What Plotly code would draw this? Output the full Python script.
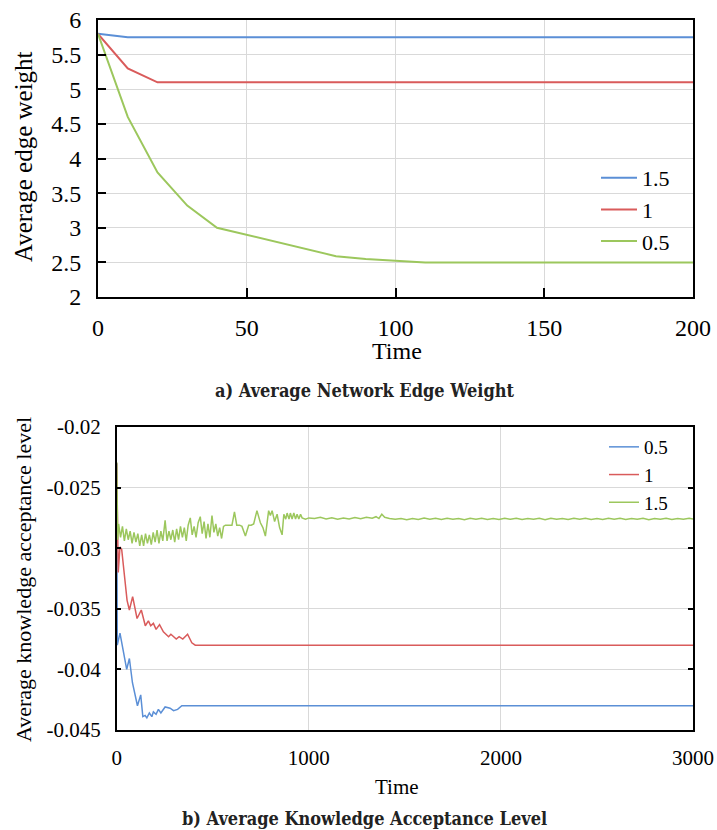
import plotly.graph_objects as go

# ---------- (a) Average network edge weight ----------
time_a = [0, 10, 20, 30, 40, 50, 60, 70, 80, 90, 100, 110, 120, 140, 160, 180, 200]
w_15 = [5.80, 5.75, 5.75, 5.75, 5.75, 5.75, 5.75, 5.75, 5.75, 5.75, 5.75, 5.75, 5.75, 5.75, 5.75, 5.75, 5.75]
w_10 = [5.80, 5.30, 5.10, 5.10, 5.10, 5.10, 5.10, 5.10, 5.10, 5.10, 5.10, 5.10, 5.10, 5.10, 5.10, 5.10, 5.10]
w_05 = [5.80, 4.60, 3.80, 3.32, 3.00, 2.90, 2.80, 2.70, 2.59, 2.55, 2.53, 2.50, 2.50, 2.50, 2.50, 2.50, 2.50]
yticks_a = [2, 2.5, 3, 3.5, 4, 4.5, 5, 5.5, 6]
yticktext_a = ["2", "2.5", "3", "3.5", "4", "4.5", "5", "5.5", "6"]
xticks_a = [0, 50, 100, 150, 200]

# ---------- (b) Average knowledge acceptance level ----------
t_b05 = [0, 3, 17, 35, 52, 66, 82, 108, 125, 136, 148, 157, 170, 183, 191, 205, 217, 230,
         252, 278, 296, 317, 339, 3000]
k_b05 = [-0.0230, -0.0380, -0.0370, -0.0387, -0.0400, -0.0391, -0.0411, -0.0430, -0.0421,
         -0.0439, -0.0438, -0.0440, -0.0436, -0.0439, -0.0435, -0.0437, -0.0433, -0.0436,
         -0.0431, -0.0432, -0.0434, -0.0433, -0.0430, -0.0430]

t_b10 = [0, 8, 17, 26, 54, 66, 83, 106, 128, 149, 165, 177, 191, 205, 223, 243, 270, 282,
         310, 325, 344, 369, 391, 409, 3000]
k_b10 = [-0.0230, -0.0320, -0.0299, -0.0301, -0.0343, -0.0351, -0.0340, -0.0358, -0.0351,
         -0.0364, -0.0360, -0.0364, -0.0362, -0.0367, -0.0363, -0.0369, -0.0373, -0.0371,
         -0.0375, -0.0373, -0.0375, -0.0371, -0.0378, -0.0380, -0.0380]

t_b15 = [0, 5, 10, 20, 30, 40, 50, 60, 70, 80, 90, 100, 110, 120, 130, 140, 150, 160, 170,
         180, 190, 200, 210, 220, 230, 240, 252, 262, 272, 282, 292, 302, 312, 322, 332, 342,
         352, 362, 372, 383, 393, 403, 413, 424, 435, 445, 455, 465, 475, 485, 496, 506, 516,
         526, 536, 546, 556, 566, 590, 600, 613, 625, 640, 652, 670, 687, 700, 713, 730, 748,
         761, 774, 791, 800, 809, 822, 835, 848, 861, 870, 880, 887, 897, 904, 913, 922, 931,
         939, 948, 957, 965, 983, 1000,
         1030, 1060, 1090, 1120, 1150, 1180, 1210, 1240, 1270, 1300, 1330, 1350, 1365, 1380,
         1395, 1420, 1450, 1480, 1510, 1540, 1570, 1600, 1630, 1660, 1690, 1720, 1750, 1780,
         1810, 1840, 1870, 1900, 1930, 1960, 1990, 2020, 2050, 2080, 2110, 2140, 2170, 2200,
         2230, 2260, 2290, 2320, 2350, 2380, 2410, 2440, 2470, 2500, 2530, 2560, 2590, 2620,
         2650, 2680, 2710, 2740, 2770, 2800, 2830, 2860, 2890, 2920, 2950, 2980, 3000]
k_b15 = [-0.0229, -0.0293, -0.0280, -0.0291, -0.0282, -0.0294, -0.0284, -0.0293, -0.0286,
         -0.0296, -0.0287, -0.0295, -0.0288, -0.0298, -0.0289, -0.0298, -0.0288, -0.0296,
         -0.0289, -0.0297, -0.0287, -0.0295, -0.0285, -0.0296, -0.0286, -0.0294, -0.0277,
         -0.0294, -0.0286, -0.0293, -0.0285, -0.0295, -0.0284, -0.0293, -0.0282, -0.0291,
         -0.0283, -0.0294, -0.0281, -0.0275, -0.0289, -0.0282, -0.0291, -0.0279, -0.0274,
         -0.0288, -0.0278, -0.0292, -0.0280, -0.0291, -0.0273, -0.0287, -0.0280, -0.0290,
         -0.0283, -0.0292, -0.0282, -0.0281, -0.0281, -0.0281, -0.0270, -0.0281, -0.0281,
         -0.0282, -0.0290, -0.0281, -0.0281, -0.0280, -0.0269, -0.0279, -0.0283, -0.0290,
         -0.0269, -0.0273, -0.0269, -0.0278, -0.0272, -0.0283, -0.0289, -0.0272, -0.0276,
         -0.0271, -0.0276, -0.0271, -0.0276, -0.0271, -0.0276, -0.0272, -0.0276, -0.0272,
         -0.0275, -0.0276, -0.0275,
         -0.02755, -0.02745, -0.02758, -0.02748, -0.02760, -0.02750, -0.02758, -0.02747,
         -0.02756, -0.02745, -0.02752, -0.02740, -0.02755, -0.02720, -0.02745, -0.02755,
         -0.02762, -0.02755, -0.02765, -0.02755, -0.02763, -0.02752, -0.02762, -0.02754,
         -0.02764, -0.02753, -0.02762, -0.02755, -0.02765, -0.02754, -0.02762, -0.02753,
         -0.02763, -0.02755, -0.02764, -0.02754, -0.02762, -0.02753, -0.02764, -0.02755,
         -0.02762, -0.02754, -0.02765, -0.02753, -0.02762, -0.02755, -0.02764, -0.02754,
         -0.02762, -0.02753, -0.02763, -0.02755, -0.02764, -0.02754, -0.02762, -0.02753,
         -0.02764, -0.02755, -0.02762, -0.02754, -0.02765, -0.02755, -0.02762, -0.02754,
         -0.02763, -0.02755, -0.02762, -0.02754, -0.02760]
yticks_b = [-0.045, -0.04, -0.035, -0.03, -0.025, -0.02]
yticktext_b = ["-0.045", "-0.04", "-0.035", "-0.03", "-0.025", "-0.02"]
xticks_b = [0, 1000, 2000, 3000]

BLUE = "#5B8FD6"
RED = "#D95B5B"
GREEN = "#9CC75D"
SERIF = "'Liberation Serif', 'Times New Roman', serif"
TITLE_FONT = "'DejaVu Serif Condensed', 'DejaVu Serif', serif"
W, H = 717, 830


def px(x):
    return x / W


def py(y):
    return 1 - y / H


fig = go.Figure()

fig.add_trace(go.Scatter(x=time_a, y=w_15, name="1.5", mode="lines",
                         line=dict(color=BLUE, width=2), xaxis="x", yaxis="y", legend="legend"))
fig.add_trace(go.Scatter(x=time_a, y=w_10, name="1", mode="lines",
                         line=dict(color=RED, width=2), xaxis="x", yaxis="y", legend="legend"))
fig.add_trace(go.Scatter(x=time_a, y=w_05, name="0.5", mode="lines",
                         line=dict(color=GREEN, width=2), xaxis="x", yaxis="y", legend="legend"))

fig.add_trace(go.Scatter(x=t_b05, y=k_b05, name="0.5", mode="lines",
                         line=dict(color=BLUE, width=1.5), xaxis="x2", yaxis="y2", legend="legend2"))
fig.add_trace(go.Scatter(x=t_b10, y=k_b10, name="1", mode="lines",
                         line=dict(color=RED, width=1.5), xaxis="x2", yaxis="y2", legend="legend2"))
fig.add_trace(go.Scatter(x=t_b15, y=k_b15, name="1.5", mode="lines",
                         line=dict(color=GREEN, width=1.5), xaxis="x2", yaxis="y2", legend="legend2"))

GRID = "#D9D9D9"

fig.update_layout(
    width=W, height=H,
    margin=dict(l=0, r=0, t=0, b=0, autoexpand=False),
    paper_bgcolor="white", plot_bgcolor="white",
    xaxis=dict(domain=[px(98), px(693)], anchor="y", range=[0, 200], automargin=False,
               tickvals=xticks_a, ticks="inside", ticklen=9, tickwidth=1.5, tickcolor="black",
               showline=True, linecolor="black", linewidth=2, mirror=True,
               showgrid=True, gridcolor=GRID, gridwidth=1.2, zeroline=False,
               tickfont=dict(family=SERIF, size=24, color="black"), ticklabelstandoff=8),
    yaxis=dict(domain=[py(297), py(20)], anchor="x", range=[2, 6], automargin=False,
               tickvals=yticks_a, ticktext=yticktext_a, ticks="inside", ticklen=8, tickwidth=1.5,
               tickcolor="black", showline=True, linecolor="black", linewidth=2, mirror=True,
               showgrid=True, gridcolor=GRID, gridwidth=1.2, zeroline=False,
               tickfont=dict(family=SERIF, size=24, color="black"), ticklabelstandoff=10),
    xaxis2=dict(domain=[px(116.7), px(693)], anchor="y2", range=[0, 3000], automargin=False,
                tickvals=xticks_b, ticks="", showline=True, linecolor="black", linewidth=1.5,
                mirror="all", showgrid=True, gridcolor=GRID, gridwidth=1, zeroline=False,
                tickfont=dict(family=SERIF, size=21, color="black"), ticklabelstandoff=8),
    xaxis3=dict(overlaying="x2", anchor="y2", side="top", range=[0, 3000],
                automargin=False,
                tickvals=xticks_b, ticks="outside", ticklen=7, tickwidth=1.5, tickcolor="black",
                showticklabels=False, showgrid=False, showline=True, linecolor="black",
                linewidth=1.5, zeroline=False),
    yaxis2=dict(domain=[py(730), py(427)], anchor="x2", range=[-0.045, -0.02], automargin=False,
                tickvals=yticks_b, ticktext=yticktext_b, ticks="inside", ticklen=5, tickwidth=1.5,
                tickcolor="black", showline=True, linecolor="black", linewidth=1.5, mirror="all",
                showgrid=True, gridcolor=GRID, gridwidth=1, zeroline=False,
                tickfont=dict(family=SERIF, size=21, color="black"), ticklabelstandoff=10),
    yaxis3=dict(overlaying="y2", anchor="x2", side="right", range=[-0.045, -0.02],
                automargin=False, ticks="", showticklabels=False, showgrid=False,
                showline=True, linecolor="black", linewidth=1.5, zeroline=False),
    legend=dict(x=px(596), y=py(157), xanchor="left", yanchor="top",
                font=dict(family=SERIF, size=22, color="black"), bgcolor="rgba(0,0,0,0)",
                borderwidth=0, itemwidth=36, tracegroupgap=0),
    legend2=dict(x=px(604), y=py(428), xanchor="left", yanchor="top",
                 font=dict(family=SERIF, size=19, color="black"), bgcolor="rgba(0,0,0,0)",
                 borderwidth=0, itemwidth=30, tracegroupgap=0),
    showlegend=True,
)

annotations = [
    dict(text="Average edge weight", x=px(24), y=py(157), textangle=-90,
         font=dict(family=SERIF, size=25, color="black")),
    dict(text="Time", x=px(397), y=py(351), font=dict(family=SERIF, size=24, color="black")),
    dict(text="<b>a) Average Network Edge Weight</b>", x=px(365), y=py(390),
         font=dict(family=TITLE_FONT, size=18, color="#222222")),
    dict(text="Average knowledge acceptance level", x=px(23), y=py(580), textangle=-90,
         font=dict(family=SERIF, size=22, color="black")),
    dict(text="Time", x=px(397), y=py(787), font=dict(family=SERIF, size=21, color="black")),
    dict(text="<b>b) Average Knowledge Acceptance Level</b>", x=px(364), y=py(818),
         font=dict(family=TITLE_FONT, size=18, color="#222222")),
]
for a in annotations:
    a.update(xref="paper", yref="paper", showarrow=False, xanchor="center", yanchor="middle")
fig.update_layout(annotations=annotations)

fig.write_html("out.html", config={"displayModeBar": False},
               post_script="document.body.style.margin='0';")
